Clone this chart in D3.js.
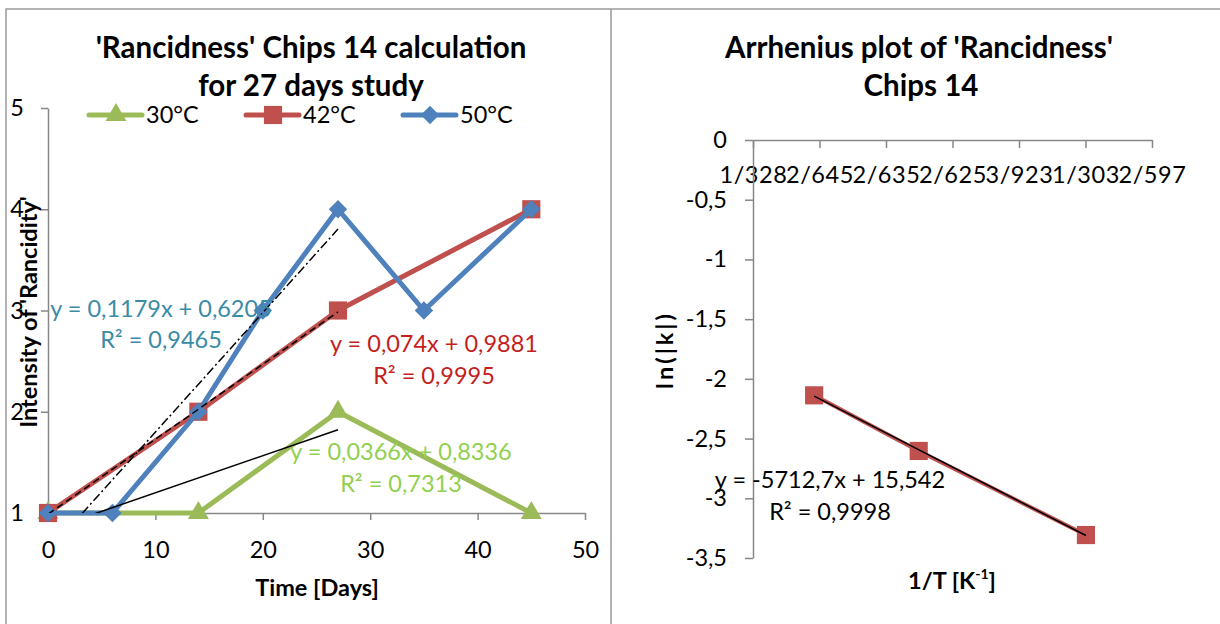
<!DOCTYPE html>
<html>
<head>
<meta charset="utf-8">
<script src="https://cdn.jsdelivr.net/npm/d3@7"></script>
<style>
  body { margin: 0; background: #fff; }
  svg { display: block; }
  text { font-family: Lato, "Open Sans", sans-serif; }
</style>
</head>
<body>
<div id="chart"></div>
<script>
// ---- left chart: intensity of rancidity vs time ----
const seriesNames = ["30°C", "42°C", "50°C"];
const days30 = [0, 14, 27, 45];
const vals30 = [1, 1, 2, 1];
const days42 = [0, 14, 27, 45];
const vals42 = [1, 2, 3, 4];
const days50 = [0, 6, 14, 20, 27, 35, 45];
const vals50 = [1, 1, 2, 3, 4, 3, 4];

// linear trendlines (fitted on day 0..27), as printed on the chart
const trendSlopes = [0.0366, 0.074, 0.1179];
const trendIntercepts = [0.8336, 0.9881, 0.6205];
const trendR2 = [0.7313, 0.9995, 0.9465];
const trendRange = [0, 27];

const dayTicks = [0, 10, 20, 30, 40, 50];
const intensityTicks = [1, 2, 3, 4, 5];

// ---- right chart: Arrhenius plot ----
const invT = [1 / 323, 1 / 315, 1 / 303];
const lnK = [-2.1379, -2.6037, -3.3077];
const arrSlope = -5712.7;
const arrIntercept = 15.542;
const arrR2 = 0.9998;
const invTTicks = [0.00305, 0.0031, 0.00315, 0.0032, 0.00325, 0.0033, 0.00335];
const invTTickLabels = ["1/328", "2/645", "2/635", "2/625", "3/923", "1/303", "2/597"];
const lnKTicks = [0, -0.5, -1, -1.5, -2, -2.5, -3, -3.5];

const colors = ["#9BBB59", "#C0504D", "#4F81BD"];
const labelColors = ["#92D050", "#C41E1E", "#3A8BA6"];
const axisGray = "#878787";

const W = 1220, H = 624;
const fontSize = 23.5;     // tick labels, legend, trend labels
const titleSize = 29.5;
const axisTitleSize = 23.5;

// comma decimal, plain hyphen minus (like the original spreadsheet)
const loc = d3.formatLocale({decimal: ",", thousands: ".", grouping: [3], currency: ["", ""], minus: "-"});
const fmt = loc.format("");

const svg = d3.select("#chart").append("svg")
  .attr("width", W)
  .attr("height", H)
  .attr("viewBox", [0, 0, W, H]);

// chart frames
svg.append("path")
  .attr("d", "M6,640V9H1230M611,9V640")
  .attr("fill", "none")
  .attr("stroke", "#9a9a9a")
  .attr("stroke-width", 1.5);

function styleAxis(g) {
  g.select(".domain").attr("stroke", axisGray).attr("stroke-width", 1.5);
  g.selectAll(".tick line").attr("stroke", axisGray).attr("stroke-width", 1.5);
  g.selectAll(".tick text")
    .attr("fill", "#000")
    .attr("font-size", fontSize)
    .attr("font-family", "Lato, 'Open Sans', sans-serif");
}

// ================= LEFT CHART =================
const x = d3.scaleLinear([0, 50], [48, 585]);
const y = d3.scaleLinear([1, 5], [513, 108]);

svg.append("g")
  .attr("transform", `translate(0,${y(1)})`)
  .call(d3.axisBottom(x).tickValues(dayTicks).tickSize(7).tickPadding(21).tickSizeOuter(0).tickFormat(fmt))
  .call(styleAxis);

svg.append("g")
  .attr("transform", `translate(${x(0)},0)`)
  .call(d3.axisLeft(y).tickValues(intensityTicks).tickSize(7).tickPadding(17).tickSizeOuter(0).tickFormat(fmt))
  .call(styleAxis);

svg.append("clipPath").attr("id", "plotclip")
  .append("rect")
  .attr("x", x(0)).attr("y", y(5))
  .attr("width", x(50) - x(0)).attr("height", y(1) - y(5));

const leftSeries = [
  {days: days30, vals: vals30},
  {days: days42, vals: vals42},
  {days: days50, vals: vals50}
];

const markerPath = [
  d3.symbol(d3.symbolTriangle, 190)(),
  d3.symbol(d3.symbolSquare, 330)(),
  d3.symbol(d3.symbolSquare, 170)()
];
const markerRotate = [0, 0, 45];

const line = d3.line().x(d => x(d[0])).y(d => y(d[1]));

leftSeries.forEach((s, i) => {
  const pts = d3.zip(s.days, s.vals);
  svg.append("path")
    .datum(pts)
    .attr("d", line)
    .attr("fill", "none")
    .attr("stroke", colors[i])
    .attr("stroke-width", 5)
    .attr("stroke-linejoin", "round");
  svg.append("g").selectAll("path")
    .data(pts)
    .join("path")
    .attr("d", markerPath[i])
    .attr("transform", d => `translate(${x(d[0])},${y(d[1])}) rotate(${markerRotate[i]})`)
    .attr("fill", colors[i]);
});

// trendlines on top
const trendDash = [null, "7,4", "9,3,2,3"];
const trendG = svg.append("g").attr("clip-path", "url(#plotclip)");
trendSlopes.forEach((m, i) => {
  const pts = trendRange.map(d => [d, m * d + trendIntercepts[i]]);
  trendG.append("path")
    .datum(pts)
    .attr("d", line)
    .attr("fill", "none")
    .attr("stroke", "#000")
    .attr("stroke-width", 1.5)
    .attr("stroke-dasharray", trendDash[i]);
});

// trendline labels
const trendLabelPos = [[401, 460, 492], [434, 352, 384], [161, 317, 348]];
trendSlopes.forEach((m, i) => {
  const [cx, b1, b2] = trendLabelPos[i];
  const t = svg.append("text")
    .attr("text-anchor", "middle")
    .attr("font-size", fontSize)
    .attr("fill", labelColors[i]);
  t.append("tspan").attr("x", cx).attr("y", b1)
    .text(`y = ${fmt(m)}x + ${fmt(trendIntercepts[i])}`);
  t.append("tspan").attr("x", cx).attr("y", b2)
    .text(`R² = ${fmt(trendR2[i])}`);
});

// title
const titleL = svg.append("text")
  .attr("text-anchor", "middle")
  .attr("font-size", titleSize)
  .attr("font-weight", "bold");
titleL.append("tspan").attr("x", 311).attr("y", 58).text("'Rancidness' Chips 14 calculation");
titleL.append("tspan").attr("x", 311).attr("y", 96).text("for 27 days study");

// legend
const legend = svg.append("g");
seriesNames.forEach((name, i) => {
  const x0 = 89 + i * 157;
  legend.append("line")
    .attr("x1", x0).attr("x2", x0 + 53)
    .attr("y1", 115).attr("y2", 115)
    .attr("stroke", colors[i])
    .attr("stroke-width", 5)
    .attr("stroke-linecap", "round");
  legend.append("path")
    .attr("d", markerPath[i])
    .attr("transform", `translate(${x0 + 27},115) rotate(${markerRotate[i]})`)
    .attr("fill", colors[i]);
  legend.append("text")
    .attr("x", x0 + 57).attr("y", 123)
    .attr("font-size", fontSize)
    .text(name);
});

// axis titles
svg.append("text")
  .attr("transform", "translate(37,312) rotate(-90)")
  .attr("text-anchor", "middle")
  .attr("font-size", axisTitleSize)
  .attr("font-weight", "bold")
  .text("Intensity of 'Rancidity'");

svg.append("text")
  .attr("x", 317).attr("y", 596)
  .attr("text-anchor", "middle")
  .attr("font-size", axisTitleSize)
  .attr("font-weight", "bold")
  .text("Time [Days]");

// ================= RIGHT CHART =================
const x2 = d3.scaleLinear([0.00305, 0.00335], [753, 1152]);
const y2 = d3.scaleLinear([-3.5, 0], [558, 140]);

svg.append("g")
  .attr("transform", `translate(0,${y2(0)})`)
  .call(d3.axisBottom(x2).tickValues(invTTicks).tickSize(8).tickPadding(18).tickSizeOuter(0)
    .tickFormat((d, i) => invTTickLabels[i]))
  .call(styleAxis)
  .call(g => g.selectAll(".tick text").attr("letter-spacing", 0.6));

svg.append("g")
  .attr("transform", `translate(${x2(0.00305)},0)`)
  .call(d3.axisLeft(y2).tickValues(lnKTicks).tickSize(8).tickPadding(18).tickSizeOuter(0)
    .tickFormat(fmt))
  .call(styleAxis);

const line2 = d3.line().x(d => x2(d[0])).y(d => y2(d[1]));
const arrPts = d3.zip(invT, lnK);

svg.append("path")
  .datum(arrPts)
  .attr("d", line2)
  .attr("fill", "none")
  .attr("stroke", colors[1])
  .attr("stroke-width", 4);

svg.append("g").selectAll("path")
  .data(arrPts)
  .join("path")
  .attr("d", markerPath[1])
  .attr("transform", d => `translate(${x2(d[0])},${y2(d[1])})`)
  .attr("fill", colors[1]);

const arrTrend = d3.extent(invT).map(d => [d, arrSlope * d + arrIntercept]);
svg.append("path")
  .datum(arrTrend)
  .attr("d", line2)
  .attr("fill", "none")
  .attr("stroke", "#000")
  .attr("stroke-width", 1.5);

const arrLabel = svg.append("text")
  .attr("text-anchor", "middle")
  .attr("font-size", fontSize)
  .attr("fill", "#000");
arrLabel.append("tspan").attr("x", 830).attr("y", 488)
  .text(`y = ${fmt(arrSlope)}x + ${fmt(arrIntercept)}`);
arrLabel.append("tspan").attr("x", 830).attr("y", 520)
  .text(`R² = ${fmt(arrR2)}`);

const titleR = svg.append("text")
  .attr("text-anchor", "middle")
  .attr("font-size", titleSize)
  .attr("font-weight", "bold");
titleR.append("tspan").attr("x", 919).attr("y", 58).text("Arrhenius plot of 'Rancidness'");
titleR.append("tspan").attr("x", 921).attr("y", 96).text("Chips 14");

svg.append("text")
  .attr("transform", "translate(673,350) rotate(-90)")
  .attr("text-anchor", "middle")
  .attr("font-size", axisTitleSize)
  .attr("font-weight", "bold")
  .attr("letter-spacing", 3)
  .text("ln(|k|)");

const xt = svg.append("text")
  .attr("x", 952).attr("y", 589)
  .attr("text-anchor", "middle")
  .attr("font-size", axisTitleSize)
  .attr("font-weight", "bold");
xt.append("tspan").text("1/T [K");
xt.append("tspan").attr("font-size", 14).attr("dy", -10).text("-1");
xt.append("tspan").attr("dy", 10).text("]");
</script>
</body>
</html>
